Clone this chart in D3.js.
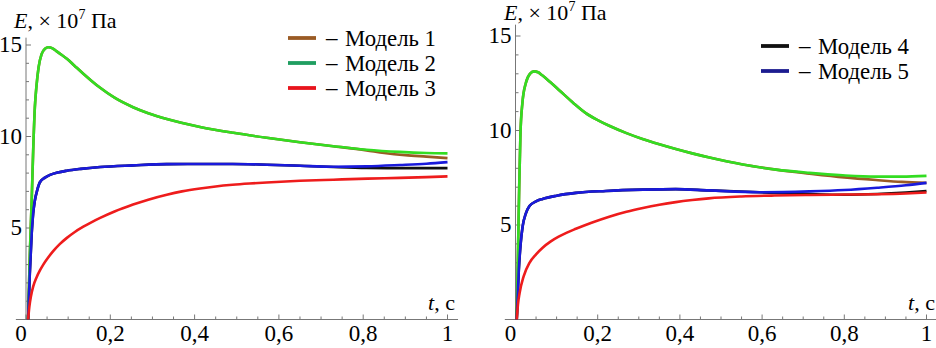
<!DOCTYPE html>
<html>
<head>
<meta charset="utf-8">
<script src="https://cdn.jsdelivr.net/npm/d3@7"></script>
<style>
  body { margin: 0; background: #fff; }
</style>
</head>
<body>
<svg id="chart" width="936" height="348"></svg>
<script>
// tick values and labels
const xTicks = [0, 0.2, 0.4, 0.6, 0.8, 1];
const xTickLabels = ['0', '0,2', '0,4', '0,6', '0,8', '1'];
const yTicks = [5, 10, 15];

// left panel, [t, E]
const model1Left = [[0.005, 0], [0.009, 3.5], [0.0135, 6.5], [0.017, 9.2], [0.021, 11.6], [0.025, 12.8], [0.03, 13.8],
  [0.037, 14.5], [0.045, 14.8], [0.053, 14.88], [0.063, 14.82], [0.073, 14.65], [0.085, 14.45], [0.097, 14.25],
  [0.115, 13.87], [0.136, 13.43], [0.155, 13.05], [0.176, 12.66], [0.21, 12.12], [0.254, 11.6], [0.29, 11.27],
  [0.334, 10.95], [0.413, 10.52], [0.492, 10.2], [0.571, 9.93], [0.65, 9.69], [0.729, 9.47], [0.808, 9.24],
  [0.85, 9.1], [0.9, 8.98], [0.95, 8.9], [1.0, 8.82]];
const model2Left = [[0.005, 0], [0.009, 3.5], [0.0135, 6.5], [0.017, 9.2], [0.021, 11.6], [0.025, 12.8], [0.03, 13.8],
  [0.037, 14.5], [0.045, 14.8], [0.053, 14.88], [0.063, 14.82], [0.073, 14.65], [0.085, 14.45], [0.097, 14.25],
  [0.115, 13.87], [0.136, 13.43], [0.155, 13.05], [0.176, 12.66], [0.21, 12.12], [0.254, 11.6], [0.29, 11.27],
  [0.334, 10.95], [0.413, 10.52], [0.492, 10.2], [0.571, 9.93], [0.65, 9.69], [0.729, 9.47], [0.808, 9.28],
  [0.887, 9.16], [0.95, 9.1], [1.0, 9.08]];
const model3Left = [[0.005, 0], [0.008, 0.7], [0.012, 1.3], [0.017, 1.8], [0.025, 2.3], [0.033, 2.68], [0.041, 3.0],
  [0.053, 3.4], [0.065, 3.75], [0.08, 4.12], [0.097, 4.46], [0.115, 4.77], [0.136, 5.07], [0.155, 5.31], [0.176, 5.55],
  [0.21, 5.9], [0.254, 6.28], [0.29, 6.55], [0.334, 6.82], [0.37, 7.0], [0.413, 7.16], [0.45, 7.27], [0.49, 7.36],
  [0.53, 7.43], [0.571, 7.49], [0.65, 7.58], [0.729, 7.64], [0.81, 7.7], [0.887, 7.74], [0.95, 7.78], [1.0, 7.82]];
const model4Left = [[0.005, 0], [0.009, 2.5], [0.0135, 4.7], [0.017, 5.8], [0.021, 6.5], [0.027, 7.1], [0.033, 7.5],
  [0.045, 7.75], [0.057, 7.9], [0.075, 8.03], [0.097, 8.13], [0.13, 8.23], [0.176, 8.33], [0.254, 8.42], [0.334, 8.49],
  [0.413, 8.5], [0.49, 8.5], [0.571, 8.46], [0.65, 8.4], [0.729, 8.33], [0.808, 8.28], [0.887, 8.27], [1.0, 8.27]];
const model5Left = [[0.005, 0], [0.009, 2.5], [0.0135, 4.7], [0.017, 5.8], [0.021, 6.5], [0.027, 7.1], [0.033, 7.5],
  [0.045, 7.75], [0.057, 7.9], [0.075, 8.03], [0.097, 8.13], [0.13, 8.23], [0.176, 8.33], [0.254, 8.42], [0.334, 8.49],
  [0.413, 8.5], [0.49, 8.5], [0.571, 8.46], [0.65, 8.4], [0.729, 8.35], [0.808, 8.37], [0.887, 8.44], [0.95, 8.51], [1.0, 8.6]];

// right panel
const model1Right = [[0.003, 0], [0.006, 3.5], [0.009, 7.0], [0.012, 9.8], [0.017, 11.5], [0.025, 12.5], [0.035, 13.0],
  [0.045, 13.13], [0.055, 13.08], [0.065, 12.92], [0.085, 12.55], [0.107, 12.12], [0.14, 11.47], [0.171, 10.92],
  [0.2, 10.55], [0.228, 10.25], [0.27, 9.86], [0.309, 9.55], [0.35, 9.27], [0.39, 9.02], [0.43, 8.79], [0.472, 8.57],
  [0.553, 8.2], [0.634, 7.93], [0.715, 7.72], [0.8, 7.52], [0.877, 7.38], [0.94, 7.28], [1.0, 7.23]];
const model2Right = [[0.003, 0], [0.006, 3.5], [0.009, 7.0], [0.012, 9.8], [0.017, 11.5], [0.025, 12.5], [0.035, 13.0],
  [0.045, 13.13], [0.055, 13.08], [0.065, 12.92], [0.085, 12.55], [0.107, 12.12], [0.14, 11.47], [0.171, 10.92],
  [0.2, 10.55], [0.228, 10.25], [0.27, 9.86], [0.309, 9.55], [0.35, 9.27], [0.39, 9.02], [0.43, 8.79], [0.472, 8.57],
  [0.553, 8.2], [0.634, 7.93], [0.715, 7.76], [0.796, 7.63], [0.877, 7.56], [0.94, 7.56], [1.0, 7.6]];
const model3Right = [[0.003, 0], [0.006, 0.8], [0.01, 1.4], [0.02, 2.3], [0.034, 3.0], [0.05, 3.45], [0.066, 3.8],
  [0.085, 4.12], [0.105, 4.38], [0.125, 4.6], [0.147, 4.8], [0.185, 5.12], [0.228, 5.44], [0.27, 5.7], [0.31, 5.9],
  [0.35, 6.07], [0.39, 6.21], [0.43, 6.32], [0.47, 6.41], [0.55, 6.51], [0.63, 6.56], [0.715, 6.59], [0.8, 6.61],
  [0.88, 6.63], [0.95, 6.67], [1.0, 6.72]];
const model4Right = [[0.003, 0], [0.008, 2.6], [0.0125, 4.0], [0.0175, 4.95], [0.025, 5.6], [0.034, 6.0], [0.05, 6.25],
  [0.066, 6.38], [0.1, 6.55], [0.147, 6.7], [0.22, 6.8], [0.31, 6.87], [0.39, 6.9], [0.47, 6.83], [0.593, 6.73],
  [0.66, 6.68], [0.715, 6.64], [0.8, 6.6], [0.88, 6.64], [0.95, 6.72], [1.0, 6.8]];
const model5Right = [[0.003, 0], [0.008, 2.6], [0.0125, 4.0], [0.0175, 4.95], [0.025, 5.6], [0.034, 6.0], [0.05, 6.25],
  [0.066, 6.38], [0.1, 6.55], [0.147, 6.7], [0.22, 6.8], [0.31, 6.87], [0.39, 6.9], [0.47, 6.83], [0.593, 6.73],
  [0.715, 6.78], [0.8, 6.85], [0.88, 6.97], [0.95, 7.1], [1.0, 7.23]];

const colors = {
  m1: '#9a5b24', m2: '#33dd22', m3: '#ee1c1c', m4: '#111111', m5: '#1a1adb'
};
const legendColors = {
  m1: '#9a5b24', m2: '#1f9e60', m3: '#e8141c', m4: '#111111', m5: '#1c1c90'
};
const FONT = "'Liberation Serif'";

const svg = d3.select('#chart');

function drawPanel(p) {
  const x = d3.scaleLinear().domain([0, 1]).range(p.xRange);
  const y = d3.scaleLinear().domain([0, 15]).range(p.yRange);
  const g = svg.append('g');
  const axisColor = '#777';

  // axes lines
  g.append('line')
    .attr('x1', x(p.xAxisFrom)).attr('x2', x(p.xAxisTo))
    .attr('y1', y(0)).attr('y2', y(0))
    .attr('stroke', axisColor).attr('stroke-width', 1);
  g.append('line')
    .attr('x1', x(0)).attr('x2', x(0))
    .attr('y1', y(0)).attr('y2', y(p.yAxisTo))
    .attr('stroke', axisColor).attr('stroke-width', 1);

  // ticks point into the plot, like Mathematica
  d3.range(0, 1.0001, 0.05).forEach(v => {
    const major = Math.abs(v * 5 - Math.round(v * 5)) < 1e-6;
    g.append('line')
      .attr('x1', x(v)).attr('x2', x(v))
      .attr('y1', y(0)).attr('y2', y(0) - (major ? 5 : 3))
      .attr('stroke', axisColor);
  });
  d3.range(1, 15.01, 1).forEach(v => {
    const major = v % 5 === 0;
    g.append('line')
      .attr('x1', x(0)).attr('x2', x(0) + (major ? 5 : 3))
      .attr('y1', y(v)).attr('y2', y(v))
      .attr('stroke', axisColor);
  });

  g.selectAll('.xl').data(xTicks).enter().append('text')
    .attr('x', (d, i) => x(d) + (i === 0 ? -5 : 0))
    .attr('y', 341)
    .attr('text-anchor', 'middle')
    .style('font-family', FONT).style('font-size', '23px')
    .text((d, i) => xTickLabels[i]);
  g.selectAll('.yl').data(yTicks).enter().append('text')
    .attr('x', x(0) - 4)
    .attr('y', d => y(d) + 7)
    .attr('text-anchor', 'end')
    .style('font-family', FONT).style('font-size', '23px')
    .text(d => d);

  // axis titles
  const yt = g.append('text').attr('x', p.titleX).attr('y', p.titleY)
    .style('font-family', FONT).style('font-size', '22px');
  yt.append('tspan').attr('font-style', 'italic').text('E');
  yt.append('tspan').text(', × 10');
  yt.append('tspan').style('font-size', '14px').attr('dy', -9).text('7');
  yt.append('tspan').attr('dy', 9).text(' Па');

  const xt = g.append('text').attr('x', p.tX).attr('y', 310)
    .style('font-family', FONT).style('font-size', '22px');
  xt.append('tspan').attr('font-style', 'italic').text('t');
  xt.append('tspan').text(', с');

  const line = d3.line()
    .x(d => x(d[0]))
    .y(d => y(d[1]))
    .curve(d3.curveMonotoneX);

  p.series.forEach(s => {
    g.append('path')
      .datum(s.data)
      .attr('fill', 'none')
      .attr('stroke', colors[s.key])
      .attr('stroke-width', 2.6)
      .attr('stroke-linejoin', 'round')
      .attr('d', line);
  });

  // legend
  p.legend.forEach((l, i) => {
    const ly = p.legendY + i * 25;
    g.append('line')
      .attr('x1', p.legendX).attr('x2', p.legendX + 28)
      .attr('y1', ly).attr('y2', ly)
      .attr('stroke', legendColors[l.key]).attr('stroke-width', 3.8);
    g.append('text')
      .attr('x', p.legendX + 38)
      .attr('y', ly + 7)
      .style('font-family', FONT).style('font-size', '23px')
      .text('–');
    g.append('text')
      .attr('x', p.legendX + 57)
      .attr('y', ly + 8)
      .attr('textLength', 91)
      .attr('lengthAdjust', 'spacingAndGlyphs')
      .style('font-family', FONT).style('font-size', '24px')
      .text(l.label);
  });
}

drawPanel({
  xRange: [26, 447.5], yRange: [319.5, 45],
  xAxisFrom: -0.024, xAxisTo: 1.025, yAxisTo: 15.4,
  titleX: 14, titleY: 28, tX: 428,
  legendX: 288, legendY: 38,
  legend: [{ key: 'm1', label: 'Модель 1' }, { key: 'm2', label: 'Модель 2' }, { key: 'm3', label: 'Модель 3' }],
  series: [
    { key: 'm1', data: model1Left }, { key: 'm4', data: model4Left },
    { key: 'm2', data: model2Left }, { key: 'm5', data: model5Left },
    { key: 'm3', data: model3Left }
  ]
});

drawPanel({
  xRange: [515.5, 926.5], yRange: [319.5, 36],
  xAxisFrom: -0.026, xAxisTo: 1.03, yAxisTo: 15.6,
  titleX: 504, titleY: 20, tX: 908,
  legendX: 761, legendY: 46,
  legend: [{ key: 'm4', label: 'Модель 4' }, { key: 'm5', label: 'Модель 5' }],
  series: [
    { key: 'm1', data: model1Right }, { key: 'm4', data: model4Right },
    { key: 'm2', data: model2Right }, { key: 'm5', data: model5Right },
    { key: 'm3', data: model3Right }
  ]
});
</script>
</body>
</html>
